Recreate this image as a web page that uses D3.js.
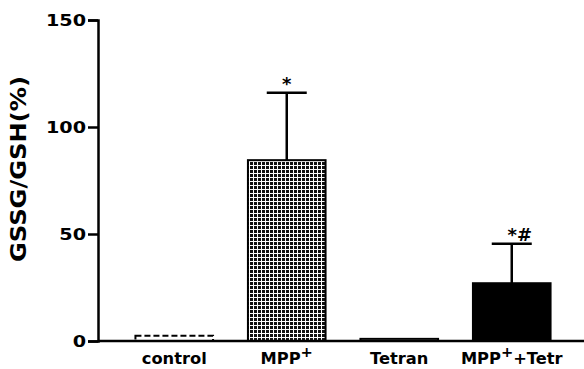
<!DOCTYPE html>
<html>
<head>
<meta charset="utf-8">
<script src="https://cdn.jsdelivr.net/npm/d3@7"></script>
<style>
  body { margin: 0; background: #fff; }
  text { font-family: "DejaVu Sans", Arial, sans-serif; font-weight: bold; fill: #000; }
</style>
</head>
<body>
<span></span>
<script>
let width = 584;
let height = 369;

// data
let groups = ["control", "MPP+", "Tetran", "MPP+ +Tetr"];
let means = [2.5, 84.5, 1, 27];
let errs = [0, 31.5, 0, 18.5];
let marks = ["", "*", "", "*#"];
let yTicks = [0, 50, 100, 150];

let svg = d3.select("span")
    .append("svg")
    .attr("width", width)
    .attr("height", height);

let defs = svg.append("defs");
let pat = defs.append("pattern")
    .attr("id", "grid")
    .attr("patternUnits", "userSpaceOnUse")
    .attr("width", 4)
    .attr("height", 4);
pat.append("rect").attr("width", 4).attr("height", 4).attr("fill", "#111");
pat.append("rect").attr("x", 0).attr("y", 1).attr("width", 4).attr("height", 1).attr("fill", "#fff");
pat.append("rect").attr("x", 1).attr("y", 0).attr("width", 1).attr("height", 4).attr("fill", "#fff");

let y = d3.scaleLinear().domain([0, 150]).range([341, 20]);
let x = d3.scaleBand().domain(groups).range([118, 568]).paddingInner(0.31).paddingOuter(0.155);

// bars
let fills = ["#fff", "url(#grid)", "#fff", "#000"];
svg.selectAll(".bar")
    .data(groups)
    .enter()
    .append("rect")
    .attr("class", "bar")
    .attr("x", d => x(d))
    .attr("y", (d, i) => y(means[i]))
    .attr("width", x.bandwidth())
    .attr("height", (d, i) => y(0) - y(means[i]))
    .attr("fill", (d, i) => fills[i])
    .attr("stroke", "#000")
    .attr("stroke-width", 2)
    .attr("stroke-dasharray", (d, i) => i === 0 ? "6,3" : null);

// error bars (upper only)
groups.forEach(function (g, i) {
    if (!errs[i]) return;
    let cx = x(g) + x.bandwidth() / 2;
    svg.append("line")
        .attr("x1", cx).attr("x2", cx)
        .attr("y1", y(means[i])).attr("y2", y(means[i] + errs[i]))
        .attr("stroke", "#000").attr("stroke-width", 2.5);
    svg.append("line")
        .attr("x1", cx - 20).attr("x2", cx + 20)
        .attr("y1", y(means[i] + errs[i])).attr("y2", y(means[i] + errs[i]))
        .attr("stroke", "#000").attr("stroke-width", 2.5);
    svg.append("text")
        .attr("x", cx + (marks[i].length > 1 ? 8 : 0))
        .attr("y", y(means[i] + errs[i]) - 3)
        .attr("text-anchor", "middle")
        .attr("font-size", 18)
        .text(marks[i]);
});

// y axis
let yAxis = d3.axisLeft(y).tickValues(yTicks).tickSize(10).tickPadding(0);
let ga = svg.append("g").attr("transform", "translate(98,0)").call(yAxis);
ga.select(".domain").attr("stroke-width", 2.5);
ga.selectAll(".tick line").attr("stroke-width", 2.5);
ga.selectAll(".tick text")
    .attr("x", 0)
    .attr("dy", "0.36em")
    .attr("transform", "translate(-12,0) scale(1.28,1)")
    .attr("font-size", 15)
    .attr("font-family", "DejaVu Sans, Arial, sans-serif")
    .attr("font-weight", "bold");

// x axis line
svg.append("line")
    .attr("x1", 98).attr("x2", 584)
    .attr("y1", y(0)).attr("y2", y(0))
    .attr("stroke", "#000").attr("stroke-width", 2.5);

// x labels
let labelGroups = svg.selectAll(".xl")
    .data(groups)
    .enter()
    .append("text")
    .attr("class", "xl")
    .attr("transform", d => "translate(" + (x(d) + x.bandwidth() / 2) + ",364) scale(1.05,1)")
    .attr("text-anchor", "middle")
    .attr("font-size", 15.5);
labelGroups.each(function (d) {
    let t = d3.select(this);
    if (d.indexOf("MPP+") === 0) {
        t.append("tspan").text("MPP");
        t.append("tspan").attr("dy", -7).attr("font-size", 14).text("+");
        if (d.length > 4) t.append("tspan").attr("dy", 7).text("+Tetr");
    } else {
        t.text(d);
    }
});

// y label
svg.append("text")
    .attr("transform", "translate(26,169) rotate(-90) scale(1.18,1)")
    .attr("text-anchor", "middle")
    .attr("font-size", 20.5)
    .text("GSSG/GSH(%)");
</script>
</body>
</html>
